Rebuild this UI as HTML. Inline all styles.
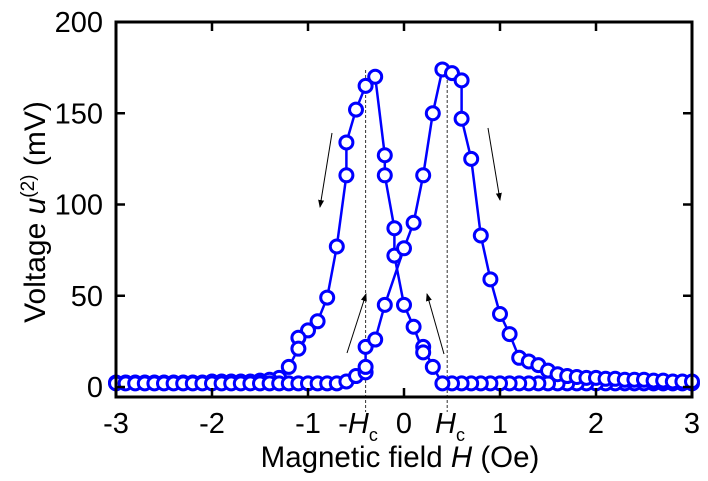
<!DOCTYPE html>
<html><head><meta charset="utf-8"><style>
body{margin:0;background:#fff}
svg{display:block;font-family:"Liberation Sans",sans-serif}
</style></head><body>
<svg id="chart" width="708" height="481" viewBox="0 0 708 481" xmlns="http://www.w3.org/2000/svg">
<g id="plot"></g>
</svg>
<script>
const xTicks=[-3,-2,-1,0,1,2,3];
const xTickLabels=["-3","-2","-1","0","1","2","3"];
const yTicks=[0,50,100,150,200];
const yTickLabels=["0","50","100","150","200"];
const hcNeg=-0.4, hcPos=0.45;
const branchAH=[3.0,2.9,2.8,2.7,2.6,2.5,2.4,2.3,2.2,2.1,2.0,1.9,1.8,1.7,1.6,1.5,1.4,1.3,1.2,1.1,1.0,0.9,0.8,0.7,0.6,0.5,0.4,0.3,0.2,0.2,0.1,0.0,-0.1,-0.1,-0.2,-0.2,-0.3,-0.4,-0.5,-0.6,-0.6,-0.7,-0.8,-0.9,-1.0,-1.1,-1.1,-1.2,-1.3,-1.4,-1.5,-1.6,-1.7,-1.8,-1.9,-2.0,-2.1,-2.2,-2.3,-2.4,-2.5,-2.6,-2.7,-2.8,-2.9,-3.0];
const branchAV=[2,2,2,2,2,2,2,2,2,2,2,2,2,2,2,2,2,2,2,2,2,2,2,2,2,2,2,11,22,19,33,45,72,87,116,127,170,165,152,134,116,77,49,36,31,27,21,11,5,4,3.5,3,3,3,3,3,2.5,2.5,2.5,2.5,2.5,2.5,2.5,2.5,2.5,2.5];
const branchBH=[-3.0,-2.9,-2.8,-2.7,-2.6,-2.5,-2.4,-2.3,-2.2,-2.1,-2.0,-1.9,-1.8,-1.7,-1.6,-1.5,-1.4,-1.3,-1.2,-1.1,-1.0,-0.9,-0.8,-0.7,-0.6,-0.5,-0.4,-0.4,-0.4,-0.3,-0.2,0.0,0.1,0.2,0.3,0.4,0.5,0.6,0.6,0.7,0.8,0.9,1.0,1.1,1.2,1.3,1.4,1.5,1.6,1.7,1.8,1.9,2.0,2.1,2.2,2.3,2.4,2.5,2.6,2.7,2.8,2.9,3.0];
const branchBV=[2,2,2,2,2,2,2,2,2,2,2,2,2,2,2,2,2,2,2,2,2,2,2,2,3,6,8,11,22,26,45,76,90,116,150,174,172,168,147,125,83,59,40,29,16,14,12,9,7,6,5.5,5,5,4.5,4.5,4,4,4,3.5,3.5,3,3,3];

const NS="http://www.w3.org/2000/svg";
const L=116,R=692,T=22,B=397;
const X=h=>L+(h+3)*(R-L)/6;
const Y=v=>387-v*(387-T)/200;
const g=document.getElementById('plot');
function mk(tag,a,parent){const e=document.createElementNS(NS,tag);for(const k in a)e.setAttribute(k,a[k]);(parent||g).appendChild(e);return e;}

let d1=mk('line',{x1:X(hcNeg),x2:X(hcNeg),y1:70,y2:412,stroke:'#333','stroke-width':1,'stroke-dasharray':'3,2'});


let d2=mk('line',{x1:X(hcPos),x2:X(hcPos),y1:70,y2:412,stroke:'#333','stroke-width':1,'stroke-dasharray':'3,2'});



const defs=mk('defs',{});
const m=mk('marker',{id:'ah',markerWidth:8,markerHeight:8,refX:7,refY:4,orient:'auto',markerUnits:'userSpaceOnUse'},defs);
mk('path',{d:'M0,1 L8,4 L0,7 Z',fill:'#000'},m);
const arrows=[[332,133,320,207],[347,353,366,294],[444,354,427,294],[488,128,500,200],[210,387,194,387]];
arrows.forEach(a=>{const e=mk('line',{x1:a[0],y1:a[1],x2:a[2],y2:a[3],stroke:'#000','stroke-width':1,'marker-end':'url(#ah)'});

});

function series(H,V,name){
  const pg=mk('g',{});
  
  
  mk('polyline',{points:H.map((h,i)=>X(h)+','+Y(V[i])).join(' '),fill:'none',stroke:'#0000ff','stroke-width':2.5},pg);
  H.forEach((h,i)=>{const c=mk('circle',{cx:X(h),cy:Y(V[i]),r:6.5,fill:'#fff',stroke:'#0000ff','stroke-width':3},pg);
    
    });
}
series(branchAH,branchAV,'series-down-sweep');
series(branchBH,branchBV,'series-up-sweep');

const fr=mk('rect',{x:L,y:T,width:R-L,height:B-T,fill:'none',stroke:'#000','stroke-width':3});


xTicks.forEach((t,i)=>{
  mk('line',{x1:X(t),x2:X(t),y1:B,y2:B-9,stroke:'#000','stroke-width':2.5});
  mk('line',{x1:X(t),x2:X(t),y1:T,y2:T+9,stroke:'#000','stroke-width':2.5});
  const e=mk('text',{x:X(t),y:433,'font-size':29,'text-anchor':'middle'});e.textContent=xTickLabels[i];
  
  
});
yTicks.forEach((t,i)=>{
  mk('line',{x1:L,x2:L+9,y1:Y(t),y2:Y(t),stroke:'#000','stroke-width':2.5});
  mk('line',{x1:R,x2:R-9,y1:Y(t),y2:Y(t),stroke:'#000','stroke-width':2.5});
  const e=mk('text',{x:103,y:Y(t)+10,'font-size':29,'text-anchor':'end'});e.textContent=yTickLabels[i];
  
  
});
</script>
<svg style="position:absolute;left:0;top:0" width="708" height="481">
<text x="358" y="433" font-size="29" text-anchor="middle" font-family="Liberation Sans">-<tspan font-style="italic">H</tspan><tspan font-size="18" dy="8">c</tspan></text>
<text x="450" y="433" font-size="29" text-anchor="middle" font-family="Liberation Sans"><tspan font-style="italic">H</tspan><tspan font-size="18" dy="8">c</tspan></text>
<text x="400" y="467" font-size="29.5" text-anchor="middle" font-family="Liberation Sans">Magnetic field <tspan font-style="italic">H</tspan> (Oe)</text>
<text transform="translate(45,212) rotate(-90)" font-size="30" text-anchor="middle" font-family="Liberation Sans">Voltage <tspan font-style="italic">u</tspan><tspan font-size="19" dy="-11">(2)</tspan><tspan dy="11"> (mV)</tspan></text>
</svg>
</body></html>
